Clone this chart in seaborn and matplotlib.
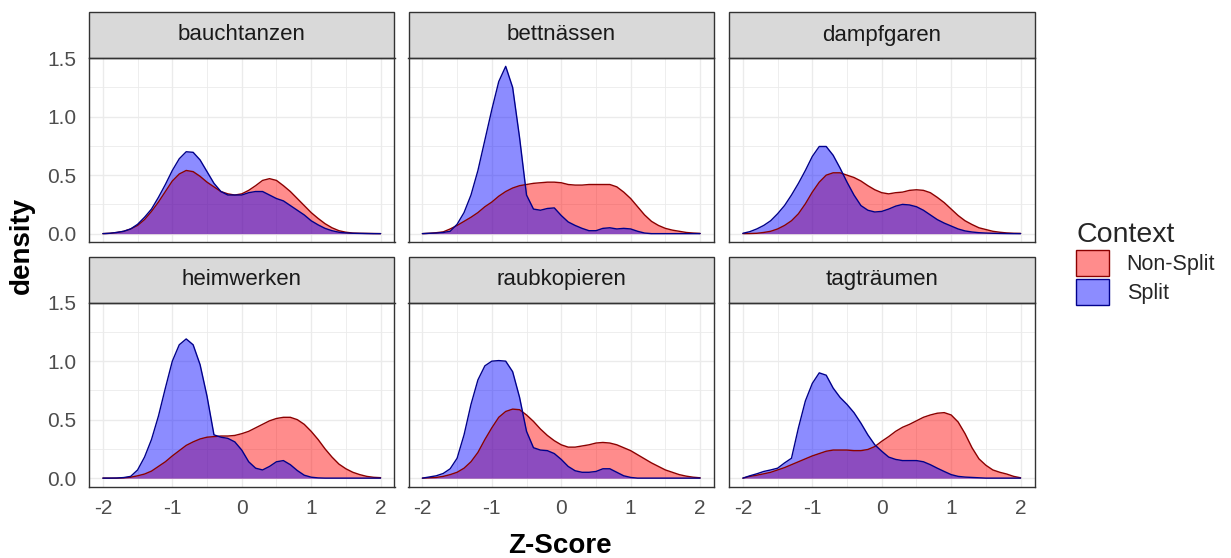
import numpy as np
import pandas as pd
import matplotlib
matplotlib.use("Agg")
import matplotlib.pyplot as plt
from matplotlib.patches import Patch, Rectangle
from matplotlib.ticker import FormatStrFormatter
import seaborn as sns

# ---- data: kernel density estimates of Z-scores per verb and context ----
words = ["bauchtanzen", "bettnässen", "dampfgaren",
         "heimwerken", "raubkopieren", "tagträumen"]
contexts = ["Non-Split", "Split"]

z_score = [-2.0, -1.9, -1.8, -1.7, -1.6, -1.5, -1.4, -1.3, -1.2, -1.1,
           -1.0, -0.9, -0.8, -0.7, -0.6, -0.5, -0.4, -0.3, -0.2, -0.1,
           0.0, 0.1, 0.2, 0.3, 0.4, 0.5, 0.6, 0.7, 0.8, 0.9,
           1.0, 1.1, 1.2, 1.3, 1.4, 1.5, 1.6, 1.7, 1.8, 1.9, 2.0]

bauchtanzen_nonsplit = [0.000, 0.003, 0.010, 0.020, 0.040, 0.070, 0.120, 0.190, 0.270, 0.360,
                        0.450, 0.510, 0.540, 0.530, 0.490, 0.440, 0.400, 0.360, 0.340, 0.330,
                        0.340, 0.370, 0.410, 0.455, 0.470, 0.455, 0.410, 0.360, 0.300, 0.240,
                        0.180, 0.130, 0.085, 0.050, 0.025, 0.012, 0.005, 0.003, 0.002, 0.001, 0.000]
bauchtanzen_split = [0.000, 0.003, 0.010, 0.020, 0.040, 0.080, 0.140, 0.210, 0.310, 0.420,
                     0.540, 0.640, 0.700, 0.695, 0.630, 0.530, 0.430, 0.360, 0.330, 0.330,
                     0.330, 0.350, 0.360, 0.360, 0.330, 0.300, 0.280, 0.240, 0.200, 0.160,
                     0.110, 0.075, 0.045, 0.025, 0.012, 0.006, 0.003, 0.002, 0.001, 0.000, 0.000]

bettnaessen_nonsplit = [0.000, 0.003, 0.008, 0.015, 0.040, 0.070, 0.105, 0.140, 0.180, 0.230,
                        0.270, 0.320, 0.360, 0.390, 0.410, 0.420, 0.430, 0.435, 0.440, 0.440,
                        0.435, 0.420, 0.415, 0.415, 0.420, 0.420, 0.420, 0.420, 0.400, 0.355,
                        0.300, 0.230, 0.160, 0.105, 0.070, 0.045, 0.030, 0.020, 0.010, 0.005, 0.002]
bettnaessen_split = [0.000, 0.003, 0.005, 0.010, 0.020, 0.080, 0.180, 0.330, 0.540, 0.800,
                     1.060, 1.300, 1.430, 1.250, 0.820, 0.330, 0.210, 0.200, 0.215, 0.220,
                     0.155, 0.100, 0.070, 0.045, 0.025, 0.025, 0.045, 0.050, 0.040, 0.045,
                     0.040, 0.020, 0.005, 0.000, 0.000, 0.000, 0.000, 0.000, 0.000, 0.000, 0.000]

dampfgaren_nonsplit = [0.000, 0.001, 0.003, 0.010, 0.020, 0.040, 0.070, 0.110, 0.170, 0.255,
                       0.355, 0.440, 0.500, 0.520, 0.520, 0.500, 0.480, 0.450, 0.410, 0.375,
                       0.350, 0.340, 0.350, 0.355, 0.370, 0.375, 0.370, 0.350, 0.310, 0.265,
                       0.210, 0.155, 0.110, 0.078, 0.050, 0.035, 0.020, 0.012, 0.006, 0.003, 0.002]
dampfgaren_split = [0.003, 0.017, 0.040, 0.070, 0.110, 0.170, 0.240, 0.330, 0.430, 0.540,
                    0.660, 0.745, 0.745, 0.670, 0.560, 0.440, 0.330, 0.240, 0.200, 0.185,
                    0.190, 0.210, 0.235, 0.250, 0.245, 0.230, 0.200, 0.160, 0.120, 0.090,
                    0.065, 0.040, 0.023, 0.014, 0.008, 0.005, 0.003, 0.002, 0.001, 0.000, 0.000]

heimwerken_nonsplit = [0.000, 0.000, 0.000, 0.002, 0.008, 0.020, 0.035, 0.060, 0.100, 0.140,
                       0.190, 0.235, 0.280, 0.310, 0.335, 0.350, 0.355, 0.360, 0.360, 0.365,
                       0.380, 0.400, 0.430, 0.460, 0.490, 0.510, 0.520, 0.520, 0.500, 0.460,
                       0.400, 0.330, 0.250, 0.180, 0.120, 0.080, 0.050, 0.030, 0.015, 0.007, 0.004]
heimwerken_split = [0.000, 0.000, 0.001, 0.005, 0.015, 0.070, 0.180, 0.330, 0.530, 0.770,
                    1.000, 1.140, 1.190, 1.140, 0.970, 0.700, 0.370, 0.350, 0.340, 0.310,
                    0.240, 0.140, 0.085, 0.070, 0.100, 0.140, 0.150, 0.115, 0.065, 0.025,
                    0.008, 0.002, 0.000, 0.000, 0.000, 0.000, 0.000, 0.000, 0.000, 0.000, 0.000]

raubkopieren_nonsplit = [0.000, 0.003, 0.006, 0.015, 0.030, 0.050, 0.085, 0.140, 0.220, 0.330,
                         0.430, 0.520, 0.570, 0.590, 0.585, 0.540, 0.485, 0.420, 0.365, 0.320,
                         0.285, 0.265, 0.265, 0.275, 0.285, 0.300, 0.305, 0.300, 0.285, 0.260,
                         0.235, 0.200, 0.165, 0.130, 0.100, 0.070, 0.050, 0.030, 0.017, 0.008, 0.003]
raubkopieren_split = [0.000, 0.010, 0.020, 0.040, 0.080, 0.170, 0.370, 0.630, 0.840, 0.960,
                      1.000, 1.005, 1.000, 0.910, 0.690, 0.400, 0.260, 0.240, 0.235, 0.210,
                      0.160, 0.100, 0.063, 0.050, 0.050, 0.057, 0.080, 0.080, 0.050, 0.020,
                      0.006, 0.000, 0.000, 0.000, 0.000, 0.000, 0.000, 0.000, 0.000, 0.000, 0.000]

tagtraeumen_nonsplit = [0.000, 0.015, 0.025, 0.037, 0.050, 0.070, 0.090, 0.115, 0.140, 0.165,
                        0.190, 0.210, 0.230, 0.240, 0.240, 0.240, 0.235, 0.235, 0.245, 0.270,
                        0.315, 0.355, 0.400, 0.435, 0.460, 0.490, 0.520, 0.540, 0.555, 0.560,
                        0.540, 0.480, 0.380, 0.260, 0.165, 0.110, 0.070, 0.050, 0.035, 0.015, 0.003]
tagtraeumen_split = [0.000, 0.020, 0.037, 0.057, 0.070, 0.085, 0.130, 0.170, 0.430, 0.660,
                     0.810, 0.900, 0.880, 0.770, 0.690, 0.630, 0.560, 0.470, 0.370, 0.285,
                     0.230, 0.180, 0.160, 0.150, 0.150, 0.150, 0.140, 0.115, 0.085, 0.057,
                     0.030, 0.015, 0.009, 0.006, 0.003, 0.000, 0.000, 0.000, 0.000, 0.000, 0.000]

series = {
    ("bauchtanzen", "Non-Split"): bauchtanzen_nonsplit,
    ("bauchtanzen", "Split"): bauchtanzen_split,
    ("bettnässen", "Non-Split"): bettnaessen_nonsplit,
    ("bettnässen", "Split"): bettnaessen_split,
    ("dampfgaren", "Non-Split"): dampfgaren_nonsplit,
    ("dampfgaren", "Split"): dampfgaren_split,
    ("heimwerken", "Non-Split"): heimwerken_nonsplit,
    ("heimwerken", "Split"): heimwerken_split,
    ("raubkopieren", "Non-Split"): raubkopieren_nonsplit,
    ("raubkopieren", "Split"): raubkopieren_split,
    ("tagträumen", "Non-Split"): tagtraeumen_nonsplit,
    ("tagträumen", "Split"): tagtraeumen_split,
}

records = []
for (word, ctx), dens in series.items():
    for z, d in zip(z_score, dens):
        records.append({"word": word, "Context": ctx, "z": z, "density": d})
df = pd.DataFrame(records)

# ---- styling ----
fill_colors = {"Non-Split": "#FF0000", "Split": "#0000FF"}
line_colors = {"Non-Split": "#8B0000", "Split": "#00008B"}
FILL_ALPHA = 0.45

sns.set_theme(style="white")
plt.rcParams["font.family"] = ["Liberation Sans", "DejaVu Sans"]
plt.rcParams["axes.unicode_minus"] = False

W, H = 1231, 558
DPI = 100

g = sns.FacetGrid(df, col="word", col_order=words, col_wrap=3,
                  hue="Context", hue_order=contexts, palette=fill_colors,
                  sharex=True, sharey=True, despine=False, height=2, aspect=1.6)


def density_area(x, y, color=None, label=None, **kws):
    ax = plt.gca()
    ax.fill_between(x, 0, y, facecolor=color, alpha=FILL_ALPHA, linewidth=0)
    ax.plot(x, y, color=line_colors[label], linewidth=1.0,
            solid_joinstyle="round", solid_capstyle="round")


g.map(density_area, "z", "density")
g.set_axis_labels("", "")

fig = g.figure
fig.set_size_inches(W / DPI, H / DPI)
fig.set_dpi(DPI)
fig.patch.set_facecolor("white")

# panel geometry in pixels
col_left = [89, 408.5, 729]
panel_w = 305.5
row_top = [58, 302.5]
panel_h = 184
strip_h = 46

for i, (ax, word) in enumerate(zip(g.axes.flat, words)):
    r, c = divmod(i, 3)
    ax.set_position([col_left[c] / W, 1 - (row_top[r] + panel_h) / H,
                     panel_w / W, panel_h / H])
    ax.set_title("")
    ax.set_xlim(-2.2, 2.2)
    ax.set_ylim(-0.0715, 1.5015)
    ax.set_xticks([-2, -1, 0, 1, 2])
    ax.set_xticks([-1.5, -0.5, 0.5, 1.5], minor=True)
    ax.set_yticks([0.0, 0.5, 1.0, 1.5])
    ax.set_yticks([0.25, 0.75, 1.25], minor=True)
    ax.yaxis.set_major_formatter(FormatStrFormatter("%.1f"))
    ax.set_facecolor("white")
    ax.set_axisbelow(True)
    ax.grid(True, which="major", color="#EBEBEB", linewidth=1.0)
    ax.grid(True, which="minor", color="#EBEBEB", linewidth=0.6)
    for s in ax.spines.values():
        s.set_visible(True)
        s.set_color("#333333")
        s.set_linewidth(1.0)
    ax.tick_params(which="major", direction="out", length=5, width=0.8,
                   color="#333333", labelcolor="#4D4D4D", labelsize=15, pad=4)
    ax.tick_params(which="minor", length=0)
    if r == 0:
        ax.tick_params(axis="x", which="both", bottom=False, labelbottom=False)
    else:
        ax.tick_params(axis="x", labelbottom=True)
    if c > 0:
        ax.tick_params(axis="y", which="both", left=False, labelleft=False)
    else:
        ax.tick_params(axis="y", labelleft=True)

    # facet strip
    frac = strip_h / panel_h
    ax.add_patch(Rectangle((0, 1), 1, frac, transform=ax.transAxes,
                           clip_on=False, facecolor="#D9D9D9",
                           edgecolor="#333333", linewidth=1.0))
    ax.text(0.5, 1 + frac / 2, word, transform=ax.transAxes,
            ha="center", va="center", fontsize=16, color="#1A1A1A")

fig.text(22 / W, 1 - 245 / H, "density", rotation=90, ha="center",
         va="center", fontsize=20, fontweight="bold", color="black")
fig.text(560 / W, 1 - 546 / H, "Z-Score", ha="center", va="center",
         fontsize=20, fontweight="bold", color="black")

handles = [Patch(facecolor=(1, 0, 0, FILL_ALPHA), edgecolor=line_colors["Non-Split"],
                 linewidth=1.0, label="Non-Split"),
           Patch(facecolor=(0, 0, 1, FILL_ALPHA), edgecolor=line_colors["Split"],
                 linewidth=1.0, label="Split")]
fig.legend(handles=handles, title="Context", loc="upper left",
           bbox_to_anchor=(1076 / W, 1 - 222 / H), frameon=False,
           fontsize=15.5, title_fontsize=20.5, handlelength=1.55,
           handleheight=1.5, labelspacing=0.1, handletextpad=0.8,
           borderpad=0, borderaxespad=0, alignment="left")

fig.savefig("out.png", dpi=DPI, facecolor="white")
